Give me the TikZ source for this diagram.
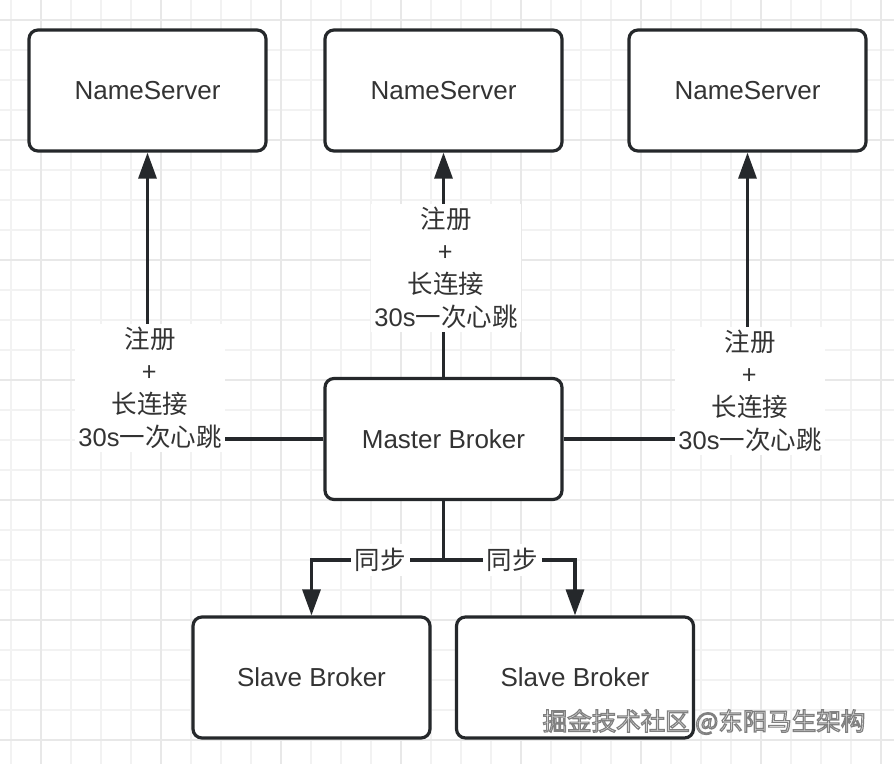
\documentclass[tikz,border=0pt]{standalone}
\usepackage{fontspec}
\setmainfont{Liberation Sans}
\newfontfamily\cjk{Noto Sans CJK SC}
\newfontfamily\lat{Liberation Sans}
\usetikzlibrary{arrows.meta}
\definecolor{ink}{HTML}{25282B}
\definecolor{txt}{HTML}{333333}
\definecolor{gminor}{HTML}{F2F2F2}
\definecolor{gmajor}{HTML}{E8E8E8}
\begin{document}
\begin{tikzpicture}[x=1pt,y=-1pt,
  box/.style={draw=ink, line width=3.2pt, rounded corners=9pt, fill=white,
    minimum width=237pt, minimum height=121pt, text=txt,
    font=\lat\fontsize{26}{30}\selectfont},
  conn/.style={draw=ink, line width=3.2pt},
  arr/.style={conn, -{Triangle[length=26pt,width=18pt]}},
  lbl/.style={fill=white, text=txt, align=center, inner sep=3pt,
    font=\cjk\fontsize{25.5}{32.5}\selectfont},
  wm/.style={font=\cjk\fontsize{24.5}{28}\selectfont}]
\useasboundingbox (0,0) rectangle (894,764);
\fill[white] (0,0) rectangle (894,764);
% grid
\foreach \x in {11,41,...,891} \draw[gminor, line width=1.3pt] (\x,0) -- (\x,764);
\foreach \y in {20,50,...,764} \draw[gminor, line width=1.3pt] (0,\y) -- (894,\y);
\foreach \x in {41,161,...,891} \draw[gmajor, line width=1.5pt] (\x,0) -- (\x,764);
\foreach \y in {20,140,...,764} \draw[gmajor, line width=1.5pt] (0,\y) -- (894,\y);

% nodes
\node[box] (ns1) at (147.5,90.5) {NameServer};
\node[box] (ns2) at (443.5,90.5) {NameServer};
\node[box] (ns3) at (747.5,90.5) {NameServer};
\node[box] (master) at (443.5,439) {Master Broker};
\node[box] (slave1) at (311.5,677.5) {Slave Broker};
\node[box] (slave2) at (575,677.5) {Slave Broker};

% connectors
\draw[arr] (master.west) -| (ns1.south);
\draw[arr] (master.north) -- (ns2.south);
\draw[arr] (master.east) -| (ns3.south);
\coordinate (j) at (443.5,560);
\draw[arr] (master.south) -- (j) -| (slave1.north);
\draw[arr] (j) -| (slave2.north);

% labels
\node[lbl] (l1) at (150,388) {注册\\+\\长连接\\{\lat 30s}一次心跳};
\node[lbl] (l2) at (446,268) {注册\\+\\长连接\\{\lat 30s}一次心跳};
\node[lbl] (l3) at (750,391) {注册\\+\\长连接\\{\lat 30s}一次心跳};
\node[lbl, inner sep=4pt] (s1) at (380,560) {同步};
\node[lbl, inner sep=4pt] (s2) at (512,560) {同步};

% watermark: white fill, grey outline (text render mode 2)
\node[wm, text=white] (wmark) at (704,722)
  {\special{pdf:literal 2 Tr 0.5 G 1.2 w}掘金技术社区 @东阳马生架构\special{pdf:literal 0 Tr}};
\end{tikzpicture}
\end{document}
